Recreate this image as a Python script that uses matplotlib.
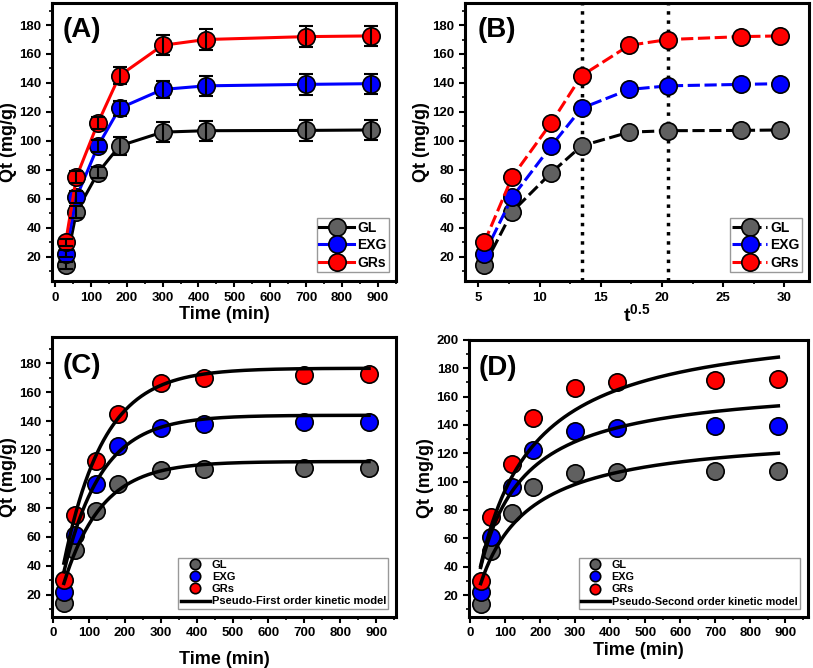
import numpy as np
import matplotlib
matplotlib.use("Agg")
import matplotlib.pyplot as plt
from matplotlib.ticker import MultipleLocator

plt.rcParams['font.family'] = ['Liberation Sans', 'DejaVu Sans']
plt.rcParams['font.weight'] = 'bold'
plt.rcParams['axes.labelweight'] = 'bold'
plt.rcParams['mathtext.fontset'] = 'custom'
plt.rcParams['mathtext.rm'] = 'Liberation Sans:bold'
plt.rcParams['mathtext.bf'] = 'Liberation Sans:bold'

# contact time (min) and sqrt(t)
time = [30, 60, 120, 180, 300, 420, 700, 880]
sqrt_time = [5.48, 7.75, 10.95, 13.42, 17.32, 20.49, 26.46, 29.66]

names = ["GL", "EXG", "GRs"]
colors = ["#606060", "#0000ff", "#ff0000"]
line_colors = ["black", "#0000ff", "#ff0000"]

qt_gl = [14, 51, 78, 96.5, 106, 107, 107.2, 107.5]
qt_exg = [22, 61, 96.5, 122.5, 135.5, 138, 139, 139.5]
qt_grs = [30, 75, 112.5, 145, 166, 170, 172, 172.5]
qt_all = [qt_gl, qt_exg, qt_grs]

err_gl = [2.5, 4, 4, 6, 7, 7, 7, 7]
err_exg = [2.5, 4, 4, 5, 6, 7, 7, 7]
err_grs = [2.5, 4, 4, 6, 7, 7, 7, 7]
err_all = [err_gl, err_exg, err_grs]

# fitted kinetic parameters
pfo_qe = [112, 144, 176.5]
pfo_k1 = [0.0095, 0.0095, 0.009]
pso_qe = [135.7, 170.8, 215.3]
pso_k2 = [6.4e-5, 5.87e-5, 3.6e-5]

# intraparticle diffusion stage boundaries (sqrt(t))
stage_lines = [13.42, 20.49]

MS = 12.5


def style_axes(ax, xmaj, xmin, ymaj, ymin):
    for s in ax.spines.values():
        s.set_linewidth(2.2)
    ax.xaxis.set_major_locator(MultipleLocator(xmaj))
    ax.xaxis.set_minor_locator(MultipleLocator(xmin))
    ax.yaxis.set_major_locator(MultipleLocator(ymaj))
    ax.yaxis.set_minor_locator(MultipleLocator(ymin))
    ax.tick_params(which='major', direction='out', length=4, width=1.5, labelsize=9.5)
    ax.tick_params(which='minor', direction='out', length=2.5, width=1.2)
    ax.set_ylabel("Qt (mg/g)", fontsize=13, labelpad=2)


fig = plt.figure(figsize=(8.13, 6.68), dpi=100)

# (A) kinetics with error bars
axA = fig.add_axes([0.064, 0.579, 0.423, 0.416])
for q, e, c, lc, n in zip(qt_all, err_all, colors, line_colors, names):
    axA.plot(time, q, '-o', color=lc, lw=2.2, ms=MS, mfc=c, mec='black', mew=1.2, label=n, zorder=3)
    axA.errorbar(time, q, yerr=e, fmt='none', ecolor='black', elinewidth=1.5,
                 capsize=5, capthick=1.5, zorder=4)
axA.set_xlim(-8, 950)
axA.set_ylim(3, 195)
style_axes(axA, 100, 50, 20, 10)
axA.set_xlabel("Time (min)", fontsize=13, labelpad=2)
axA.text(0.03, 0.95, "(A)", transform=axA.transAxes, fontsize=20, fontweight='bold', va='top', ha='left')
axA.legend(loc='lower right', bbox_to_anchor=(0.98, 0.032), borderaxespad=0, fontsize=10,
           handlelength=2.5, handletextpad=0.2, labelspacing=0.25, borderpad=0.2,
           fancybox=False, edgecolor='#999999', framealpha=1)

# (B) intraparticle diffusion
axB = fig.add_axes([0.572, 0.579, 0.423, 0.416])
for q, c, lc, n in zip(qt_all, colors, line_colors, names):
    axB.plot(sqrt_time, q, '--o', color=lc, lw=2.2, dashes=(4, 1.5), ms=MS, mfc=c, mec='black',
             mew=1.2, label=n, zorder=3)
for xv in stage_lines:
    axB.axvline(xv, color='black', ls=':', lw=2.5, zorder=2)
axB.set_xlim(3.9, 32)
axB.set_ylim(3, 195)
style_axes(axB, 5, 2.5, 20, 10)
axB.set_xlabel(r"$\mathbf{t^{0.5}}$", fontsize=14, labelpad=0)
axB.text(0.038, 0.95, "(B)", transform=axB.transAxes, fontsize=20, fontweight='bold', va='top', ha='left')
axB.legend(loc='lower right', bbox_to_anchor=(0.98, 0.032), borderaxespad=0, fontsize=10,
           handlelength=2.5, handletextpad=0.2, labelspacing=0.25, borderpad=0.2,
           fancybox=False, edgecolor='#999999', framealpha=1)

t_model = np.linspace(time[0], time[-1], 300)

# (C) pseudo-first order
axC = fig.add_axes([0.064, 0.0763, 0.423, 0.419])
for q, c, n in zip(qt_all, colors, names):
    axC.plot(time, q, 'o', ms=MS, mfc=c, mec='black', mew=1.2, label=n, zorder=3)
for i, (qe, k1) in enumerate(zip(pfo_qe, pfo_k1)):
    axC.plot(t_model, qe * (1 - np.exp(-k1 * t_model)), color='black', lw=2.5, zorder=4,
             label="Pseudo-First order kinetic model" if i == 0 else None)
axC.set_xlim(-3, 955)
axC.set_ylim(4.5, 198)
style_axes(axC, 100, 50, 20, 10)
axC.set_xlabel("Time (min)", fontsize=13, labelpad=8)
axC.text(0.03, 0.943, "(C)", transform=axC.transAxes, fontsize=20, fontweight='bold', va='top', ha='left')
axC.legend(loc='lower right', bbox_to_anchor=(0.978, 0.03), borderaxespad=0, fontsize=8,
           handlelength=2.6, handletextpad=0.2, labelspacing=0.2, borderpad=0.2, markerscale=0.6,
           fancybox=False, edgecolor='#999999', framealpha=1)

# (D) pseudo-second order
axD = fig.add_axes([0.577, 0.0763, 0.417, 0.415])
for q, c, n in zip(qt_all, colors, names):
    axD.plot(time, q, 'o', ms=MS, mfc=c, mec='black', mew=1.2, label=n, zorder=3)
for i, (qe, k2) in enumerate(zip(pso_qe, pso_k2)):
    axD.plot(t_model, qe ** 2 * k2 * t_model / (1 + qe * k2 * t_model), color='black', lw=2.5, zorder=4,
             label="Pseudo-Second order kinetic model" if i == 0 else None)
axD.set_xlim(-3, 965)
axD.set_ylim(4.5, 200)
style_axes(axD, 100, 50, 20, 10)
axD.set_xlabel("Time (min)", fontsize=13, labelpad=2)
axD.text(0.027, 0.946, "(D)", transform=axD.transAxes, fontsize=20, fontweight='bold', va='top', ha='left')
axD.legend(loc='lower right', bbox_to_anchor=(0.975, 0.03), borderaxespad=0, fontsize=7.8,
           handlelength=2.6, handletextpad=0.2, labelspacing=0.2, borderpad=0.2, markerscale=0.6,
           fancybox=False, edgecolor='#999999', framealpha=1)

fig.savefig("out.png", dpi=100)
